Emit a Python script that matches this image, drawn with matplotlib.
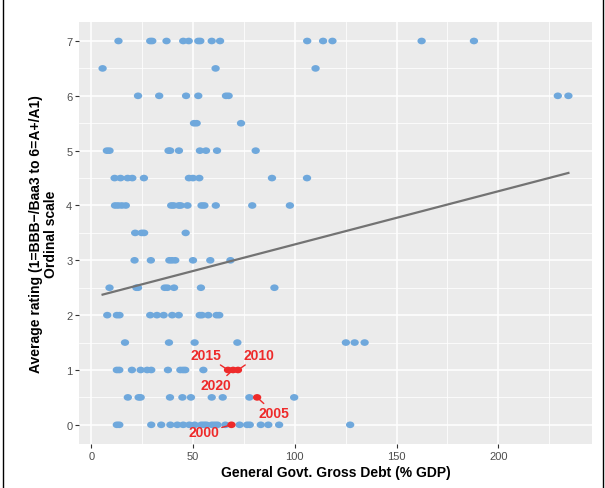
import numpy as np
import matplotlib
matplotlib.use("Agg")
import matplotlib.pyplot as plt
from matplotlib.path import Path
from matplotlib.lines import Line2D

plt.rcParams['font.family'] = ['Liberation Sans', 'DejaVu Sans']

# ---- data: debt (% GDP) of countries at each average rating level ----
debt_r7 = [13.4, 29.0, 30.0, 37.0, 45.2, 47.9, 52.6, 53.6, 59.2, 63.3, 106.1, 113.9, 118.5, 162.3, 188.0]
debt_r65 = [5.6, 61.1, 110.2]
debt_r6 = [23.0, 33.4, 46.6, 52.6, 66.2, 67.5, 229.2, 234.4]
debt_r55 = [50.5, 51.8, 73.6]
debt_r5 = [7.7, 9.0, 38.0, 38.8, 43.1, 53.4, 56.4, 61.8, 80.8]
debt_r45 = [11.5, 14.4, 17.9, 20.2, 25.9, 48.0, 50.0, 53.1, 88.8, 106.0]
debt_r4 = [11.7, 13.2, 15.0, 17.0, 39.3, 40.5, 43.0, 44.0, 47.3, 54.2, 55.6, 61.2, 79.1, 97.6]
debt_r35 = [21.6, 24.8, 26.0, 46.4]
debt_r3 = [21.3, 29.3, 38.4, 39.7, 41.3, 50.0, 58.5, 68.4]
debt_r25 = [9.0, 22.2, 23.0, 36.1, 37.4, 40.7, 53.9, 90.0]
debt_r2 = [7.9, 12.6, 13.9, 29.0, 32.3, 35.6, 39.8, 43.0, 53.3, 54.4, 57.5, 61.6, 62.9]
debt_r15 = [16.6, 38.2, 50.8, 71.8, 125.1, 129.4, 134.3]
debt_r1 = [12.6, 13.8, 20.0, 24.3, 27.5, 29.5, 37.7, 43.8, 45.1, 46.2, 55.1]
debt_r05 = [18.0, 23.3, 24.3, 38.7, 44.8, 49.0, 59.2, 64.6, 77.7, 99.7]
debt_r0 = [12.6, 13.8, 29.5, 34.4, 38.9, 42.3, 45.2, 48.2, 50.8, 54.1, 55.4, 56.6, 59.3,
           60.7, 62.0, 65.9, 72.9, 76.6, 77.9, 83.3, 87.0, 92.3, 127.2]

rating_levels = [7, 6.5, 6, 5.5, 5, 4.5, 4, 3.5, 3, 2.5, 2, 1.5, 1, 0.5, 0]
debt_by_level = [debt_r7, debt_r65, debt_r6, debt_r55, debt_r5, debt_r45, debt_r4, debt_r35,
                 debt_r3, debt_r25, debt_r2, debt_r15, debt_r1, debt_r05, debt_r0]

# highlighted country over time
hl_years = ["2000", "2005", "2010", "2015", "2020"]
hl_debt = [68.9, 81.5, 72.1, 67.2, 69.7]
hl_rating = [0, 0.5, 1, 1, 1]
# label offsets (data units) for the repelled labels
hl_label_dx = [-13.7, 8.5, 10.5, -11.0, -8.5]
hl_label_dy = [-0.14, -0.29, 0.27, 0.27, -0.28]

# linear fit
fit_intercept = 2.32
fit_slope = 0.0097

x_ticks = [0, 50, 100, 150, 200]
y_ticks = [0, 1, 2, 3, 4, 5, 6, 7]

xs = np.concatenate([np.array(d, float) for d in debt_by_level])
ys = np.concatenate([np.full(len(d), lv, float) for d, lv in zip(debt_by_level, rating_levels)])

W, H = 605, 489
fig = plt.figure(figsize=(W / 100, H / 100), dpi=100)
pl, pr, pt, pb = 79.3, 591.7, 22.8, 445.0
ax = fig.add_axes([pl / W, 1 - pb / H, (pr - pl) / W, (pb - pt) / H])
ax.set_facecolor('#EBEBEB')
for s in ax.spines.values():
    s.set_visible(False)

# ellipse marker (points appear slightly wide)
circ = Path.unit_circle()
ell = Path(circ.vertices * np.array([1.0, 0.8]), circ.codes)

allx = np.concatenate([xs, hl_debt])
xmin, xmax = allx.min(), allx.max()
pad = 0.05 * (xmax - xmin)
ax.set_xlim(xmin - pad, xmax + pad)
ax.set_ylim(-0.35, 7.35)

ax.set_xticks(x_ticks)
ax.set_xticks(np.arange(25, 250, 50), minor=True)
ax.set_yticks(y_ticks)
ax.set_yticks(np.arange(0.5, 7.5, 1.0), minor=True)
ax.grid(which='major', color='white', lw=1.1)
ax.grid(which='minor', color='white', lw=0.55)
ax.set_axisbelow(True)
ax.tick_params(which='major', length=3, width=0.8, color='#333333', labelcolor='#4D4D4D',
               labelsize=8, pad=2)
ax.tick_params(which='minor', length=0)

ax.scatter(xs, ys, s=36, marker=ell, color='#6FA8DC', edgecolors='none', zorder=2)

xx = np.array([xs.min(), xs.max()])
ax.plot(xx, fit_intercept + fit_slope * xx, color='#737373', lw=1.6, zorder=3)

ax.scatter(hl_debt, hl_rating, s=36, marker=ell, color='#EE2A2A', edgecolors='none', zorder=4)
for yr, x, y, dx, dy in zip(hl_years, hl_debt, hl_rating, hl_label_dx, hl_label_dy):
    ax.annotate(yr, xy=(x, y), xytext=(x + dx, y + dy), ha='center', va='center',
                color='#EE2A2A', fontsize=10, fontweight='bold', zorder=5,
                arrowprops=dict(arrowstyle='-', color='#EE2A2A', lw=1.0, shrinkA=0, shrinkB=0))

ax.set_xlabel("General Govt. Gross Debt (% GDP)", fontsize=10, fontweight='bold',
              labelpad=3)
fig.text(43.5 / W, 1 - ((pt + pb) / 2) / H,
         "Average rating (1=BBB\u2212/Baa3 to 6=A+/A1)\nOrdinal scale",
         rotation=90, ha='center', va='center', fontsize=10, fontweight='bold',
         linespacing=1.1, multialignment='center')

fig.add_artist(Line2D([3 / W, 3 / W], [0, 1], transform=fig.transFigure, color='black', lw=1))
fig.add_artist(Line2D([603 / W, 603 / W], [0, 1], transform=fig.transFigure, color='black', lw=1))

fig.savefig('out.png', dpi=100)
